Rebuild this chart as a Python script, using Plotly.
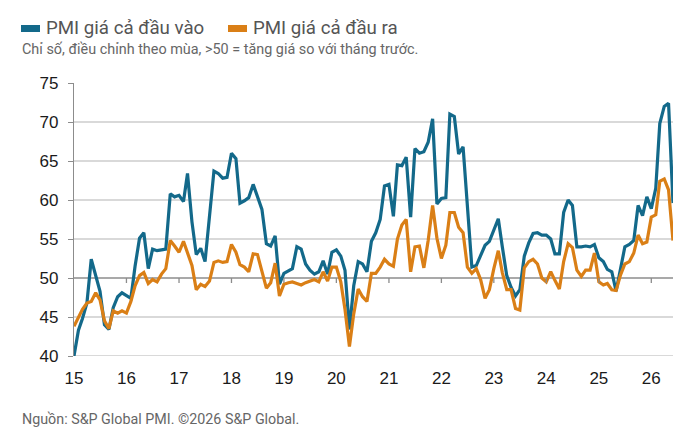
import plotly.graph_objects as go
import pandas as pd

# ---- data (monthly, Jan 2015 .. Jun 2026) ----
input_prices = [
    40.0, 43.3, 44.8, 46.8, 52.4, 50.2, 48.3, 44.0, 43.4, 46.2, 47.6, 48.1,
    47.8, 47.4, 51.5, 55.1, 55.8, 51.2, 53.7, 53.5, 53.6, 53.7, 60.8, 60.4,
    60.6, 59.8, 63.4, 57.2, 53.0, 53.8, 52.1, 57.5, 63.7, 63.4, 62.8, 62.9,
    66.0, 65.3, 59.6, 59.9, 60.3, 62.0, 60.4, 58.8, 54.4, 54.1, 55.4, 49.2,
    50.6, 50.9, 51.2, 54.0, 53.7, 51.8, 51.0, 50.5, 50.8, 52.2, 50.5, 53.3,
    53.6, 52.8, 51.0, 43.4, 49.0, 52.1, 51.8, 50.8, 54.7, 55.8, 57.5, 61.8,
    62.0, 57.9, 64.5, 64.4, 65.5, 57.8, 66.6, 66.0, 66.2, 67.4, 70.4, 59.5,
    60.2, 60.3, 71.0, 70.7, 65.9, 66.8, 59.0, 51.4, 51.6, 52.8, 54.2, 54.7,
    56.3, 57.6, 54.0, 50.3, 48.8, 47.7, 48.5, 52.8, 54.5, 55.7, 55.8, 55.5,
    55.5, 55.0, 53.1, 53.1, 58.4, 60.0, 59.3, 54.0, 54.0, 54.1, 54.0, 54.3,
    52.6, 52.1, 51.1, 50.8, 48.3, 51.4, 54.0, 54.3, 54.8, 59.3, 58.0, 60.4,
    58.9, 61.5, 69.8, 72.0, 72.4, 59.6,
]
output_prices = [
    43.8, 45.0, 46.0, 46.8, 47.0, 48.1, 47.2, 44.5, 43.5, 45.8, 45.5, 45.8,
    45.5, 47.0, 49.0, 50.3, 50.7, 49.3, 49.8, 49.5, 50.5, 51.2, 54.8, 54.1,
    53.3, 54.7, 53.1, 51.6, 48.5, 49.2, 48.9, 49.6, 52.0, 52.2, 52.0, 52.1,
    54.3, 53.3, 51.7, 51.4, 50.8, 53.1, 53.0, 51.0, 48.7, 49.4, 51.9, 47.7,
    49.2, 49.4, 49.5, 49.3, 49.1, 49.4, 49.6, 49.8, 49.5, 50.8, 49.6, 51.4,
    51.4, 49.5, 46.0, 41.2, 45.4, 48.6, 47.6, 47.0, 50.6, 50.6, 51.4, 52.4,
    51.8, 51.5, 55.0, 56.8, 57.5, 50.8, 54.0, 54.1, 51.3, 54.8, 59.3, 55.1,
    52.5, 54.2, 58.4, 58.4, 56.5, 55.8, 51.4, 50.6, 51.2, 49.8, 47.4, 48.5,
    51.2, 53.5, 50.7, 48.5, 48.5, 46.1, 45.9, 51.3, 52.1, 52.4, 51.8, 50.0,
    49.5, 50.8, 49.7, 48.6, 52.1, 54.4, 53.9, 51.0, 50.2, 51.0, 51.0, 53.2,
    49.5, 49.1, 49.3, 48.5, 48.4, 50.4, 51.8, 52.1, 53.2, 55.5, 54.4, 54.6,
    57.8, 58.1, 62.4, 62.7, 61.3, 54.8,
]
dates = pd.date_range("2015-01-01", periods=len(input_prices), freq="MS")
years = list(range(2015, 2027))
year_labels = [str(y)[2:] for y in years]
y_ticks = [40, 45, 50, 55, 60, 65, 70, 75]
grid_values = [40, 45, 55, 60, 65, 70]
series_names = ["PMI giá cả đầu vào", "PMI giá cả đầu ra"]
subtitle = "Chỉ số, điều chỉnh theo mùa, >50 = tăng giá so với tháng trước."
source = "Nguồn: S&P Global PMI. ©2026 S&P Global."

BLUE = "#13698A"
ORANGE = "#DA7F16"
GRID = "#CDCDCD"
AXIS = "#8C8C8C"

W, H = 692, 444
L, R, T, B = 74, 19, 83, 88
PW, PH = W - L - R, H - T - B


def px(x):
    return (x - L) / PW


def py(y):
    return (H - B - y) / PH


fig = go.Figure()
fig.add_trace(go.Scatter(x=dates, y=input_prices, mode="lines", name=series_names[0],
                         line=dict(color=BLUE, width=3.2), showlegend=False))
fig.add_trace(go.Scatter(x=dates, y=output_prices, mode="lines", name=series_names[1],
                         line=dict(color=ORANGE, width=3.2), showlegend=False))

shapes = []
for g in grid_values:
    shapes.append(dict(type="line", xref="paper", yref="y", x0=0, x1=1, y0=g, y1=g,
                       line=dict(color=GRID, width=1.3), layer="below"))
shapes.append(dict(type="line", xref="paper", yref="y", x0=0, x1=1, y0=50, y1=50,
                   line=dict(color=AXIS, width=1.5), layer="below"))
for y in years[1:]:
    shapes.append(dict(type="line", xref="x", yref="y",
                       ysizemode="pixel", yanchor=50, x0=f"{y}-01-01", x1=f"{y}-01-01",
                       y0=0, y1=-5, line=dict(color=AXIS, width=1.3)))
# legend swatches
shapes.append(dict(type="rect", xref="paper", yref="paper", x0=px(21), x1=px(40),
                   y0=py(32), y1=py(25), fillcolor=BLUE, line=dict(width=0)))
shapes.append(dict(type="rect", xref="paper", yref="paper", x0=px(228), x1=px(247),
                   y0=py(32), y1=py(25), fillcolor=ORANGE, line=dict(width=0)))

annotations = [
    dict(text=series_names[0], x=px(44), y=py(28), xref="paper", yref="paper",
         xanchor="left", yanchor="middle", showarrow=False,
         font=dict(family="Roboto", size=18.7, color="#555555")),
    dict(text=series_names[1], x=px(251), y=py(28), xref="paper", yref="paper",
         xanchor="left", yanchor="middle", showarrow=False,
         font=dict(family="Roboto", size=18.7, color="#555555")),
    dict(text=subtitle, x=px(20), y=py(49), xref="paper", yref="paper",
         xanchor="left", yanchor="middle", showarrow=False,
         font=dict(family="Roboto", size=14.4, color="#666666")),
    dict(text=source, x=px(20), y=py(419), xref="paper", yref="paper",
         xanchor="left", yanchor="middle", showarrow=False,
         font=dict(family="Roboto", size=14.3, color="#666666")),
]

fig.update_layout(
    width=W, height=H,
    margin=dict(l=L, r=R, t=T, b=B, pad=0),
    paper_bgcolor="white", plot_bgcolor="white",
    shapes=shapes, annotations=annotations,
    xaxis=dict(range=[dates[0], dates[-1]], tickvals=[f"{y}-01-01" for y in years],
               ticktext=year_labels, showgrid=False, showline=False, zeroline=False,
               ticks="", ticklabelstandoff=10,
               tickfont=dict(family="Liberation Sans, Arial", size=17, color="#1a1a1a")),
    yaxis=dict(range=[40, 75], tickvals=y_ticks, showgrid=False, zeroline=False,
               showline=True, linecolor=AXIS, linewidth=1.3, ticks="outside",
               ticklen=5, tickcolor=AXIS, tickwidth=1.3, ticklabelstandoff=6,
               tickfont=dict(family="Liberation Sans, Arial", size=17, color="#1a1a1a")),
)

fig.write_html("out.html")
